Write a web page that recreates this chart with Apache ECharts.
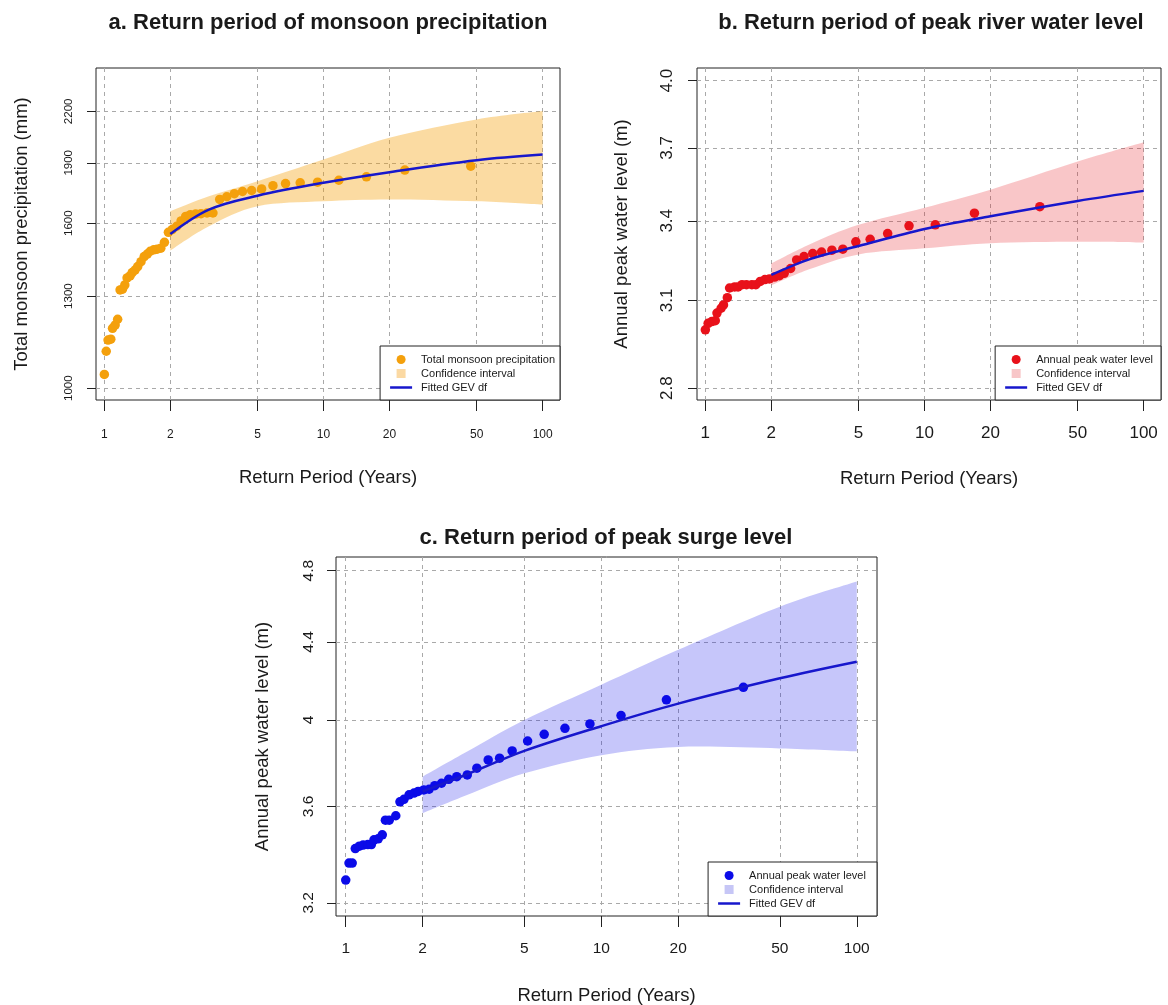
<!DOCTYPE html>
<html><head><meta charset="utf-8">
<script src="https://cdn.jsdelivr.net/npm/echarts@6/dist/echarts.min.js"></script>
<style>html,body{margin:0;padding:0;background:#fff}#chart{width:1168px;height:1005px}</style>
</head><body><div id="chart"></div>
<script>
// ---------- shared ----------
const xTicks = [1, 2, 5, 10, 20, 50, 100];
const bandT = [2, 3, 5, 10, 20, 50, 100];
const fitT = [2, 3, 5, 10, 20, 50, 100];

// ---------- panel a: monsoon precipitation ----------
const aPointT = [1.00,1.02,1.04,1.07,1.09,1.12,1.15,1.18,1.21,1.24,1.27,1.31,1.34,1.38,1.42,1.47,1.52,1.57,1.62,1.68,1.74,1.81,1.88,1.96,2.04,2.14,2.24,2.35,2.47,2.61,2.76,2.94,3.13,3.36,3.62,3.92,4.27,4.70,5.22,5.88,6.71,7.83,9.40,11.75,15.7,23.5,47.0];
const aPointV = [1040,1111,1147,1150,1186,1197,1217,1323,1326,1342,1369,1377,1390,1400,1414,1434,1455,1465,1477,1483,1486,1490,1515,1559,1571,1586,1610,1631,1639,1642,1644,1647,1647,1712,1725,1740,1751,1756,1764,1780,1791,1795,1798,1808,1826,1861,1882];
const aFitV = [1551,1663,1730,1795,1850,1914,1945];
const aBandLo = [1480,1586,1679,1703,1712,1703,1687];
const aBandHi = [1655,1727,1803,1918,2041,2150,2202];
const aYTicks = [1000, 1300, 1600, 1900, 2200];

// ---------- panel b: peak river water level ----------
const bPointT = [1.00,1.03,1.07,1.11,1.13,1.18,1.21,1.26,1.29,1.36,1.41,1.47,1.54,1.63,1.70,1.78,1.87,1.96,2.07,2.18,2.29,2.45,2.61,2.82,3.09,3.39,3.78,4.24,4.86,5.65,6.79,8.5,11.2,16.9,33.6];
const bPointV = [2.996,3.019,3.025,3.028,3.055,3.072,3.084,3.110,3.145,3.149,3.149,3.157,3.157,3.157,3.157,3.169,3.176,3.178,3.185,3.190,3.199,3.217,3.249,3.262,3.273,3.279,3.286,3.290,3.318,3.328,3.350,3.380,3.384,3.430,3.456];
const bFitV = [3.193,3.252,3.302,3.368,3.418,3.479,3.520];
const bBandLo = [3.155,3.215,3.270,3.293,3.313,3.318,3.315];
const bBandHi = [3.236,3.309,3.384,3.452,3.525,3.642,3.724];
const bYTicks = [2.8, 3.1, 3.4, 3.7, 4.0];

// ---------- panel c: peak surge level ----------
const cPointT = [1.00,1.03,1.06,1.09,1.13,1.17,1.22,1.26,1.29,1.34,1.39,1.43,1.48,1.57,1.63,1.69,1.77,1.85,1.92,2.02,2.12,2.23,2.37,2.53,2.72,2.99,3.26,3.61,4.00,4.48,5.15,5.98,7.21,9.03,11.95,17.99,36.0];
const cPointV = [3.290,3.359,3.359,3.419,3.429,3.434,3.436,3.436,3.456,3.460,3.477,3.540,3.540,3.559,3.620,3.631,3.651,3.659,3.666,3.673,3.676,3.692,3.703,3.721,3.733,3.741,3.772,3.810,3.818,3.852,3.899,3.931,3.960,3.981,4.022,4.100,4.163];
const cFitV = [3.666,3.745,3.852,3.970,4.081,4.209,4.295];
const cBandLo = [3.570,3.651,3.748,3.832,3.871,3.864,3.850];
const cBandHi = [3.733,3.850,4.000,4.176,4.358,4.594,4.737];
const cYTicks = [3.2, 3.6, 4.0, 4.4, 4.8];

// ---------- styling ----------
const FONT = '"Liberation Sans", Arial, Helvetica, sans-serif';
const TXT = '#1a1a1a';
const GRIDC = '#a9a9a9';
const FITC = '#1717cc';

const zip = (a, b) => a.map((v, i) => [v, b[i]]);

// smooth (Catmull-Rom -> cubic Bezier) path segments through pixel points
function crSegments(pts) {
  let d = '';
  const n = pts.length;
  for (let i = 0; i < n - 1; i++) {
    const p0 = pts[Math.max(i - 1, 0)], p1 = pts[i], p2 = pts[i + 1], p3 = pts[Math.min(i + 2, n - 1)];
    const c1 = [p1[0] + (p2[0] - p0[0]) / 6, p1[1] + (p2[1] - p0[1]) / 6];
    const c2 = [p2[0] - (p3[0] - p1[0]) / 6, p2[1] - (p3[1] - p1[1]) / 6];
    d += ' C' + c1[0] + ',' + c1[1] + ' ' + c2[0] + ',' + c2[1] + ' ' + p2[0] + ',' + p2[1];
  }
  return d;
}

const panels = [
  {
    title: 'a. Return period of monsoon precipitation', titleX: 328, titleY: 12,
    grid: {left: 96, top: 68, width: 464, height: 332},
    ymin: 967, ymax: 2489, yTicks: aYTicks, yFmt: v => String(Math.round(v)),
    xFont: 12, yFont: 11.5, xMargin: 29, yMargin: 21.5,
    yName: 'Total monsoon precipitation (mm)', yNameGap: 65, xNameGap: 68.5,
    pts: zip(aPointT, aPointV), fit: zip(fitT, aFitV), lo: aBandLo, hi: aBandHi,
    ptName: 'Total monsoon precipitation', ptColor: '#f4a00c',
    bandColor: 'rgba(245,160,10,0.38)', bandLegend: '#fbd9a3',
    legend: {right: 608, bottom: 605}, sfx: ''
  },
  {
    title: 'b. Return period of peak river water level', titleX: 931, titleY: 12,
    grid: {left: 697, top: 68, width: 464, height: 332},
    ymin: 2.762, ymax: 4.059, yTicks: bYTicks, yFmt: v => v.toFixed(1),
    xFont: 17, yFont: 17, xMargin: 24.5, yMargin: 21,
    yName: 'Annual peak water level (m)', yNameGap: 66, xNameGap: 69.5,
    pts: zip(bPointT, bPointV), fit: zip(fitT, bFitV), lo: bBandLo, hi: bBandHi,
    ptName: 'Annual peak water level', ptColor: '#e8111a',
    bandColor: 'rgba(232,16,26,0.24)', bandLegend: '#f8c6c8',
    legend: {right: 7, bottom: 605}, sfx: ' '
  },
  {
    title: 'c. Return period of peak surge level', titleX: 606, titleY: 527,
    grid: {left: 336, top: 557, width: 541, height: 359},
    ymin: 3.149, ymax: 4.881, yTicks: cYTicks, yFmt: v => String(+v.toFixed(1)),
    xFont: 15.5, yFont: 15.5, xMargin: 25, yMargin: 19.5,
    yName: 'Annual peak water level (m)', yNameGap: 63.5, xNameGap: 70,
    pts: zip(cPointT, cPointV), fit: zip(fitT, cFitV), lo: cBandLo, hi: cBandHi,
    ptName: 'Annual peak water level', ptColor: '#0b0be8',
    bandColor: 'rgba(10,10,232,0.23)', bandLegend: '#c6c6f6',
    legend: {right: 291, bottom: 89}, sfx: '  '
  }
];

const option = {
  backgroundColor: '#ffffff',
  animation: false,
  title: [], grid: [], xAxis: [], yAxis: [], legend: [], series: []
};

panels.forEach((p, i) => {
  option.title.push({
    text: p.title, left: p.titleX, top: p.titleY, textAlign: 'center', padding: 0,
    textStyle: {fontFamily: FONT, fontSize: 22, fontWeight: 'bold', color: TXT}
  });
  option.grid.push(Object.assign({
    show: true, borderColor: '#222', borderWidth: 1, backgroundColor: 'transparent',
    containLabel: false, outerBoundsMode: 'none'
  }, p.grid));
  option.xAxis.push({
    type: 'log', logBase: 10, gridIndex: i, min: 0.916, max: 120,
    axisLine: {show: false},
    axisTick: {show: true, inside: false, length: 11, customValues: xTicks, lineStyle: {color: '#222', width: 1}},
    axisLabel: {customValues: xTicks, fontSize: p.xFont, fontFamily: FONT, color: TXT, margin: p.xMargin,
      formatter: v => String(Math.round(v))},
    splitLine: {show: true, lineStyle: {color: GRIDC, type: [4, 4], width: 1}},
    minorTick: {show: false}, minorSplitLine: {show: false},
    name: 'Return Period (Years)', nameLocation: 'middle', nameGap: p.xNameGap,
    nameTextStyle: {fontFamily: FONT, fontSize: 18.5, color: TXT}
  });
  option.yAxis.push({
    type: 'log', logBase: 10, gridIndex: i, min: p.ymin, max: p.ymax,
    axisLine: {show: false},
    axisTick: {show: true, inside: false, length: 9, customValues: p.yTicks, lineStyle: {color: '#222', width: 1}},
    axisLabel: {customValues: p.yTicks, rotate: 90, fontSize: p.yFont, fontFamily: FONT, color: TXT, margin: p.yMargin,
      formatter: p.yFmt},
    splitLine: {show: true, lineStyle: {color: GRIDC, type: [4, 4], width: 1}},
    minorTick: {show: false}, minorSplitLine: {show: false},
    name: p.yName, nameLocation: 'middle', nameGap: p.yNameGap, nameRotate: 90,
    nameTextStyle: {fontFamily: FONT, fontSize: 18.5, color: TXT}
  });

  const ptName = p.ptName + p.sfx;
  const ciName = 'Confidence interval' + p.sfx;
  const fitName = 'Fitted GEV df' + p.sfx;

  // confidence band as one filled shape whose edges go through the axis scales
  option.series.push({
    type: 'custom', name: ciName, xAxisIndex: i, yAxisIndex: i,
    data: bandT.map((t, k) => [t, p.lo[k], p.hi[k]]),
    encode: {x: 0, y: [1, 2]},
    renderItem: (params, api) => {
      if (params.dataIndex !== 0) return null;
      const up = bandT.map((t, k) => api.coord([t, p.hi[k]]));
      const dn = bandT.map((t, k) => api.coord([t, p.lo[k]])).reverse();
      const d = 'M' + up[0][0] + ',' + up[0][1] + crSegments(up) +
        ' L' + dn[0][0] + ',' + dn[0][1] + crSegments(dn) + ' Z';
      return {type: 'path', shape: {pathData: d}, style: {fill: p.bandColor, stroke: null}, silent: true};
    },
    itemStyle: {color: p.bandLegend}, clip: true, silent: true, z: 1
  });
  option.series.push({
    type: 'scatter', name: ptName, xAxisIndex: i, yAxisIndex: i,
    data: p.pts, symbol: 'circle', symbolSize: 9.5,
    itemStyle: {color: p.ptColor, opacity: 1}, z: 3
  });
  option.series.push({
    type: 'line', name: fitName, xAxisIndex: i, yAxisIndex: i,
    data: p.fit, symbol: 'none', smooth: 0.35,
    lineStyle: {color: FITC, width: 2.5}, itemStyle: {color: FITC}, z: 4
  });

  option.legend.push(Object.assign({
    orient: 'vertical', itemWidth: 22, itemHeight: 9, itemGap: 1,
    padding: [7, 5, 6, 10], borderColor: '#222', borderWidth: 1, backgroundColor: '#ffffff',
    selectedMode: false, symbolKeepAspect: true,
    textStyle: {fontFamily: FONT, fontSize: 11, color: TXT, lineHeight: 13, padding: [0, 0, 0, 4]},
    data: [
      {name: ptName, icon: 'circle', itemStyle: {color: p.ptColor}},
      {name: ciName, icon: 'path://M0,0H10V10H0Z', itemStyle: {color: p.bandLegend}},
      {name: fitName, icon: 'path://M0,0H22V2.5H0Z', itemStyle: {color: FITC}}
    ]
  }, p.legend));
});

const chart = echarts.init(document.getElementById('chart'), null, {renderer: 'canvas', width: 1168, height: 1005});
chart.setOption(option);
</script>
</body></html>
